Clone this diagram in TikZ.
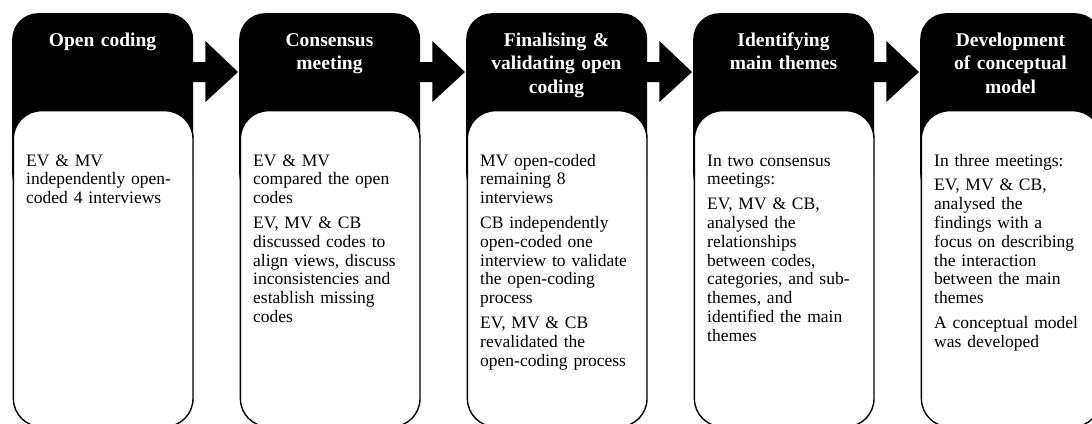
\documentclass[tikz,border=0pt]{standalone}
\usepackage{fontspec}
\setmainfont{Liberation Serif}
\usetikzlibrary{calc}
\tikzset{
  headbox/.style={fill=black, rounded corners=26pt, minimum width=181pt, minimum height=187pt, inner sep=0pt, anchor=north west},
  bodybox/.style={fill=white, draw=black, line width=1.4pt, rounded corners=28pt, minimum width=179.6pt, minimum height=316pt, inner sep=0pt, anchor=north west},
  headtext/.style={text=white, anchor=base, align=center, inner sep=0pt, text width=181pt, font=\fontsize{19.5}{23.5}\selectfont\bfseries},
  bodytext/.style={text=black, anchor=base west, align=left, inner sep=0pt, text width=175pt, font=\fontsize{17.5}{18.8}\selectfont},
  blockarrow/.style={fill=black}
}
\begin{document}
\begin{tikzpicture}[x=1pt,y=-1pt]
\useasboundingbox (0,0) rectangle (1092,423);
\clip (0,0) rectangle (1092,423);
\fill[white] (0,0) rectangle (1092,423);
% boxes
\foreach \i/\l in {1/12,2/239,3/466,4/693,5/920}{
  \node[headbox] (h\i) at (\l,13) {};
  \node[bodybox] (b\i) at (\l+0.7,110) {};
}
% arrows
\foreach \i/\j in {1/2,2/3,3/4,4/5}{
  \fill[blockarrow] ($(h\i.north east)+(-2,49)$) -- ($(h\i.north east)+(12,49)$) -- ($(h\i.north east)+(12,28)$)
     -- ($(h\j.north west)+(-1,59)$) -- ($(h\i.north east)+(12,89)$) -- ($(h\i.north east)+(12,69)$)
     -- ($(h\i.north east)+(-2,69)$) -- cycle;
}
% header texts
\node[headtext] (t1) at (102.5,46) {Open coding};
\node[headtext] (t2) at (329.5,46) {Consensus\\meeting};
\node[headtext] (t3) at (556.5,46) {Finalising \&\\validating open\\coding};
\node[headtext] (t4) at (783.5,46) {Identifying\\main themes};
\node[headtext] (t5) at (1010.5,46) {Development\\of conceptual\\model};
% body texts
\node[bodytext] (p1) at (26,166) {EV \& MV\\independently open-\\coded 4 interviews};
\node[bodytext] (p2) at (253,166) {EV \& MV\\compared the open\\codes\\[6pt]EV, MV \& CB\\discussed codes to\\align views, discuss\\inconsistencies and\\establish missing\\codes};
\node[bodytext] (p3) at (480,166) {MV open-coded\\remaining 8\\interviews\\[6pt]CB independently\\open-coded one\\interview to validate\\the open-coding\\process\\[6pt]EV, MV \& CB\\revalidated the\\open-coding process};
\node[bodytext] (p4) at (707,166) {In two consensus\\meetings:\\[6pt]EV, MV \& CB,\\analysed the\\relationships\\between codes,\\categories, and sub-\\themes, and\\identified the main\\themes};
\node[bodytext] (p5) at (934,166) {In three meetings:\\[6pt]EV, MV \& CB,\\analysed the\\findings with a\\focus on describing\\the interaction\\between the main\\themes\\[6pt]A conceptual model\\was developed};
\end{tikzpicture}
\end{document}
